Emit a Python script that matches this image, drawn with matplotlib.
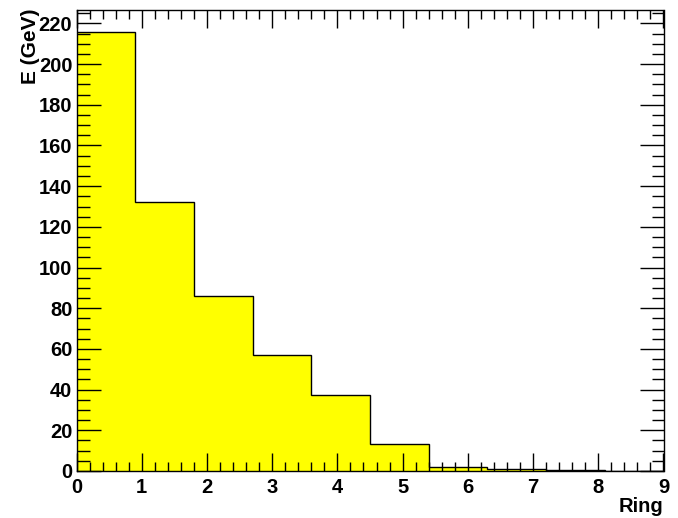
import numpy as np
import matplotlib
matplotlib.use("Agg")
import matplotlib.pyplot as plt
from matplotlib.ticker import MultipleLocator

plt.rcParams['font.family'] = ['Liberation Sans', 'DejaVu Sans']
plt.rcParams['font.weight'] = 'bold'

# Energy deposited per ring
bin_edges = [0.0, 0.9, 1.8, 2.7, 3.6, 4.5, 5.4, 6.3, 7.2, 8.1, 9.0]
energy = [215.7, 132.2, 86.0, 57.1, 37.5, 13.3, 1.9, 0.8, 0.3, 0.05]

x_label = "Ring"
y_label = "E (GeV)"

fig = plt.figure(figsize=(6.78, 5.18), dpi=100)
ax = fig.add_axes([76.5 / 678, 1 - 471 / 518, 587 / 678, 461 / 518])

ax.stairs(energy, bin_edges, fill=True, facecolor='#ffff00', edgecolor='none')
ax.stairs(energy, bin_edges, color='black', linewidth=1.0, baseline=None)

ax.set_xlim(0, 9)
ax.set_ylim(0, 226.6)

ax.xaxis.set_major_locator(MultipleLocator(1))
ax.xaxis.set_minor_locator(MultipleLocator(0.2))
ax.yaxis.set_major_locator(MultipleLocator(20))
ax.yaxis.set_minor_locator(MultipleLocator(5))

ax.tick_params(which='both', direction='in', top=True, right=True,
               labelsize=14.5, width=1.0, color='black')
ax.tick_params(axis='x', which='major', length=13, pad=5)
ax.tick_params(axis='x', which='minor', length=6.5)
ax.tick_params(axis='y', which='major', length=17.5, pad=3)
ax.tick_params(axis='y', which='minor', length=9)
for lab in ax.get_xticklabels() + ax.get_yticklabels():
    lab.set_fontweight('bold')

for s in ax.spines.values():
    s.set_linewidth(1.0)

fig.text(663.5 / 678, 1 - 507 / 518, x_label, ha='right', va='center',
         fontsize=14.5, fontweight='bold')
fig.text(30 / 678, 1 - 9 / 518, y_label, ha='center', va='top',
         rotation=90, fontsize=15, fontweight='bold')

fig.savefig("out.png", dpi=100, facecolor='white')
